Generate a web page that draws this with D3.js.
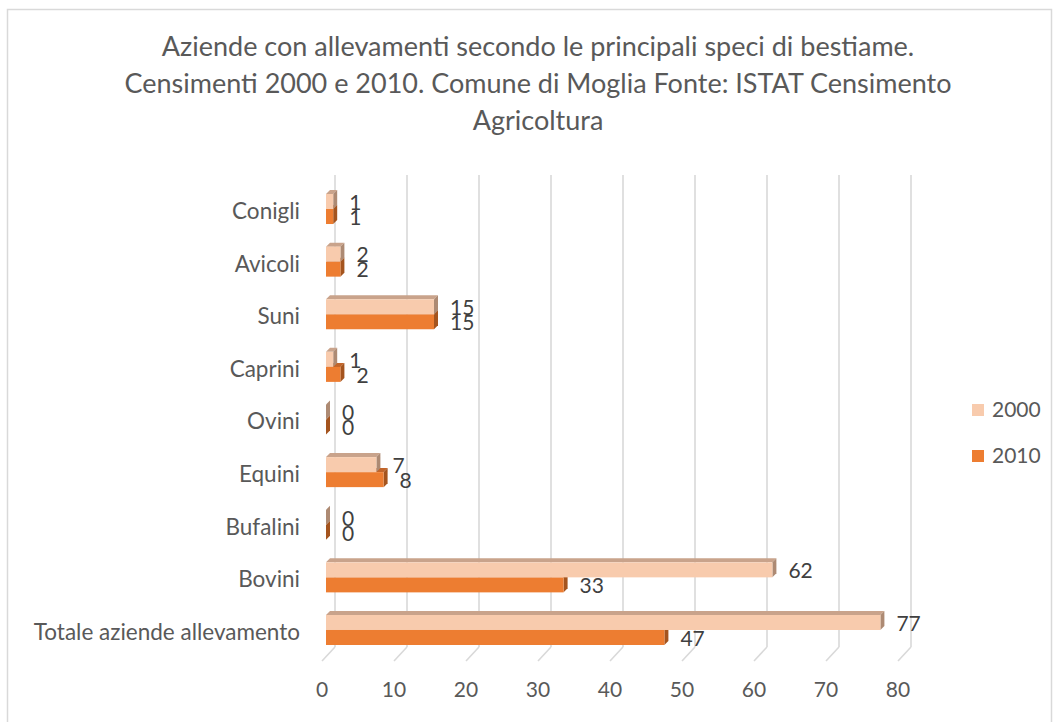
<!DOCTYPE html>
<html>
<head>
<meta charset="utf-8">
<script src="https://cdn.jsdelivr.net/npm/d3@7"></script>
<style>
  body { margin: 0; background: #fff; }
  svg text { font-family: Lato, "Open Sans", sans-serif; }
</style>
</head>
<body>
<div id="plotSect"></div>
<script>
// categories from top to bottom, as in the picture
let categories = ["Conigli", "Avicoli", "Suni", "Caprini", "Ovini", "Equini", "Bufalini", "Bovini", "Totale aziende allevamento"];
let years = ["2000", "2010"];
let values2000 = [1, 2, 15, 1, 0, 7, 0, 62, 77];
let values2010 = [1, 2, 15, 2, 0, 8, 0, 33, 47];
let xTicks = [0, 10, 20, 30, 40, 50, 60, 70, 80];
let titleLines = [
    "Aziende con allevamenti secondo le principali speci di bestiame.",
    "Censimenti 2000 e 2010. Comune di Moglia Fonte: ISTAT Censimento",
    "Agricoltura"
];

let SVGwidth = 1059,
SVGheight = 722;

let colors = {
    "2000": {front: "#f8cbad", top: "#c9a38b", side: "#ad8a73"},
    "2010": {front: "#ed7d31", top: "#c2652a", side: "#a4541e"}
};

let svg = d3.select("#plotSect").append("svg")
    .attr("width", SVGwidth)
    .attr("height", SVGheight);

// chart frame
svg.append("rect")
    .attr("x", 7.5)
    .attr("y", 9.5)
    .attr("width", 1044)
    .attr("height", 730)
    .style("fill", "none")
    .style("stroke", "#d9d9d9")
    .style("stroke-width", 1.5);

svg.selectAll(".title")
    .data(titleLines)
    .enter().append("text")
    .attr("class", "title")
    .attr("x", 538)
    .attr("y", function(d, i) { return 47 + i * 37; })
    .attr("dy", "0.35em")
    .style("text-anchor", "middle")
    .style("font-size", "27px")
    .style("fill", "#595959")
    .text(function(d) { return d; });

// 3d offsets
let frontX = 326,
wallX = 335,
footX = 322,
floorY = 647,
footY = 661,
depthX = 4,
depthY = -4;

let xScale = d3.scaleLinear().domain([0, 80]).range([0, 576]);

let step = 52.6, barBand = 30;
let yScale = d3.scaleBand()
    .domain(categories)
    .range([209 - step / 2, 630 + step / 2])
    .paddingInner(1 - barBand / step)
    .paddingOuter((1 - barBand / step) / 2);

let ySeries = d3.scaleBand().domain(years).range([0, yScale.bandwidth()]);

// gridlines on the back wall with their feet on the floor
let grid = svg.selectAll(".grid")
    .data(xTicks)
    .enter().append("g")
    .attr("class", "grid");

grid.append("line")
    .attr("x1", function(d) { return wallX + xScale(d); })
    .attr("x2", function(d) { return wallX + xScale(d); })
    .attr("y1", 175)
    .attr("y2", floorY)
    .style("stroke", "#d9d9d9")
    .style("stroke-width", 1.6);

grid.append("line")
    .attr("x1", function(d) { return wallX + xScale(d); })
    .attr("x2", function(d) { return footX + xScale(d); })
    .attr("y1", floorY)
    .attr("y2", footY)
    .style("stroke", "#d9d9d9")
    .style("stroke-width", 1.6);

grid.append("text")
    .attr("x", function(d) { return footX + xScale(d); })
    .attr("y", 690)
    .attr("dy", "0.35em")
    .style("text-anchor", "middle")
    .style("font-size", "21px")
    .style("fill", "#595959")
    .text(function(d) { return d; });

// category labels
svg.selectAll(".catLabel")
    .data(categories)
    .enter().append("text")
    .attr("class", "catLabel")
    .attr("x", 300)
    .attr("y", function(d) { return yScale(d) + yScale.bandwidth() / 2 + 2; })
    .attr("dy", "0.35em")
    .style("text-anchor", "end")
    .style("font-size", "22.5px")
    .style("fill", "#595959")
    .text(function(d) { return d; });

// bars: 2010 drawn first so the 2000 bar covers its top face
let barData = [];
categories.forEach(function(c, i) {
    barData.push({cat: c, year: "2010", value: values2010[i]});
    barData.push({cat: c, year: "2000", value: values2000[i]});
});

function pts(arr) {
    return arr.map(function(p) { return p[0] + "," + p[1]; }).join(" ");
}

let bars = svg.selectAll(".bar")
    .data(barData)
    .enter().append("g")
    .attr("class", "bar");

bars.each(function(d) {
    let g = d3.select(this);
    let x0 = frontX, x1 = frontX + xScale(d.value);
    let y0 = yScale(d.cat) + ySeries(d.year), h = ySeries.bandwidth();
    g.append("polygon")
        .attr("points", pts([[x0, y0], [x0 + depthX, y0 + depthY], [x1 + depthX, y0 + depthY], [x1, y0]]))
        .style("fill", colors[d.year].top);
    g.append("polygon")
        .attr("points", pts([[x1, y0], [x1 + depthX, y0 + depthY], [x1 + depthX, y0 + h + depthY], [x1, y0 + h]]))
        .style("fill", colors[d.year].side);
    g.append("rect")
        .attr("x", x0)
        .attr("y", y0)
        .attr("width", x1 - x0)
        .attr("height", h)
        .style("fill", colors[d.year].front);
});

// value labels
svg.selectAll(".valLabel")
    .data(barData)
    .enter().append("text")
    .attr("class", "valLabel")
    .attr("x", function(d) { return frontX + xScale(d.value) + 16; })
    .attr("y", function(d) { return yScale(d.cat) + ySeries(d.year) + ySeries.bandwidth() / 2 + 1; })
    .attr("dy", "0.35em")
    .style("font-size", "21px")
    .style("fill", "#404040")
    .text(function(d) { return d.value; });

// legend
let legend = svg.selectAll(".legend")
    .data(years)
    .enter().append("g")
    .attr("class", "legend")
    .attr("transform", function(d, i) { return "translate(972," + (404 + i * 46) + ")"; });

legend.append("rect")
    .attr("width", 12)
    .attr("height", 12)
    .style("fill", function(d) { return colors[d].front; });

legend.append("text")
    .attr("x", 20)
    .attr("y", 6)
    .attr("dy", "0.35em")
    .style("font-size", "21px")
    .style("fill", "#595959")
    .text(function(d) { return d; });
</script>
</body>
</html>
